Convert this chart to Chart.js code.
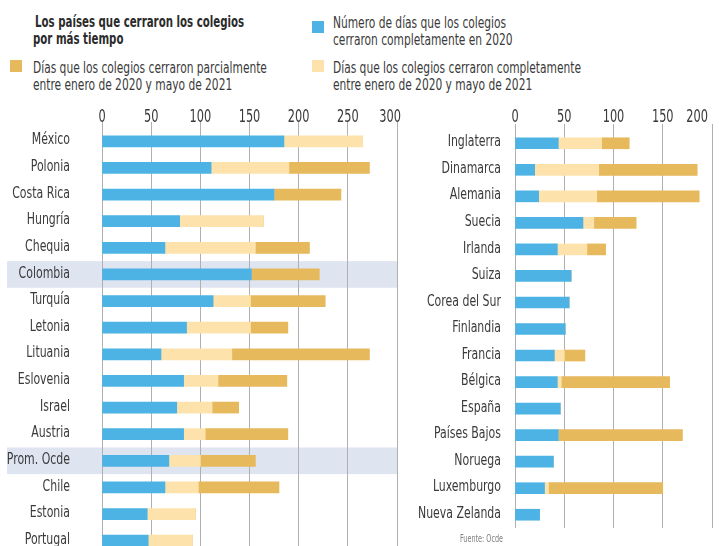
<!DOCTYPE html>
<html lang="es">
<head>
<meta charset="utf-8">
<script src="https://cdn.jsdelivr.net/npm/chart.js@4"></script>
<style>
  html, body { margin: 0; padding: 0; background: #fff; }
  body { width: 719px; height: 546px; overflow: hidden; position: relative;
         font-family: "DejaVu Sans Condensed", "DejaVu Sans", sans-serif; color: #3a3a3a; }
  .txt { position: absolute; font-size: 16px; line-height: 17px; white-space: nowrap;
         transform-origin: 0 0; transform: scaleX(0.74); }
  .titulo { font-weight: bold; color: #2b2b2b; transform: scaleX(0.71); }
  .cuadro { position: absolute; width: 12px; height: 12px; }
  canvas { position: absolute; top: 0; }
  #fuente { position: absolute; left: 460px; top: 533px; font-size: 10px; color: #808080;
            transform-origin: 0 0; transform: scaleX(0.72); white-space: nowrap; }
</style>
</head>
<body>

<div class="txt titulo" style="left:35px; top:13px;">Los países que cerraron los colegios</div>
<div class="txt titulo" style="left:33px; top:30px;">por más tiempo</div>

<div class="cuadro" style="left:10px; top:60px; background:#e6b95c;"></div>
<div class="txt" style="left:33px; top:59px;">Días que los colegios cerraron parcialmente<br>entre enero de 2020 y mayo de 2021</div>

<div class="cuadro" style="left:312px; top:21px; background:#4db3e5;"></div>
<div class="txt" style="left:333px; top:14px;">Número de días que los colegios<br>cerraron completamente en 2020</div>

<div class="cuadro" style="left:312px; top:60px; background:#fde3ab;"></div>
<div class="txt" style="left:333px; top:59px;">Días que los colegios cerraron completamente<br>entre enero de 2020 y mayo de 2021</div>

<canvas id="izq" width="412" height="560" style="left:0px;"></canvas>
<canvas id="der" width="319" height="560" style="left:400px;"></canvas>

<div id="fuente">Fuente: Ocde</div>

<script>
// DATOS - lado izquierdo
const paisesIzq = ["México", "Polonia", "Costa Rica", "Hungría", "Chequia", "Colombia", "Turquía", "Letonia",
  "Lituania", "Eslovenia", "Israel", "Austria", "Prom. Ocde", "Chile", "Estonia", "Portugal"];
const dias2020Izq = [185, 111, 175, 79, 64, 152, 113, 86, 60, 83, 76, 83, 68, 64, 46, 47];
const completosIzq = [265, 190, 175, 164, 156, 152, 151, 151, 132, 118, 112, 105, 100, 98, 95, 92];
const parcialesIzq = [0, 82, 68, 0, 55, 69, 76, 38, 140, 70, 27, 84, 56, 82, 0, 0];
const ticksIzq = [0, 50, 100, 150, 200, 250, 300];
const resaltados = ["Colombia", "Prom. Ocde"];

// DATOS - lado derecho
const paisesDer = ["Inglaterra", "Dinamarca", "Alemania", "Suecia", "Irlanda", "Suiza", "Corea del Sur", "Finlandia",
  "Francia", "Bélgica", "España", "Países Bajos", "Noruega", "Luxemburgo", "Nueva Zelanda"];
const dias2020Der = [44, 20, 24, 69, 43, 57, 55, 51, 40, 43, 46, 44, 39, 30, 25];
const completosDer = [88, 85, 83, 80, 73, 57, 55, 51, 50, 47, 46, 44, 39, 34, 25];
const parcialesDer = [28, 100, 104, 43, 19, 0, 0, 0, 21, 110, 0, 126, 0, 116, 0];
const ticksDer = [0, 50, 100, 150, 200];

const AZUL = "#4db3e5";
const CLARO = "#fde3ab";
const ORO = "#e6b95c";
const BANDA = "#dfe4f1";
const FAMILIA = "'DejaVu Sans Condensed', 'DejaVu Sans', sans-serif";

// franjas de fondo para Colombia y el promedio
const bandas = {
  id: "bandas",
  beforeDraw(chart, args, opts) {
    if (!opts.filas || !opts.filas.length) return;
    const y = chart.scales.y;
    const ctx = chart.ctx;
    const medio = (y.getPixelForValue(1) - y.getPixelForValue(0)) / 2;
    ctx.save();
    ctx.fillStyle = BANDA;
    opts.filas.forEach(nombre => {
      const i = chart.data.labels.indexOf(nombre);
      if (i < 0) return;
      const c = y.getPixelForValue(i);
      ctx.fillRect(opts.desde, c - medio, chart.chartArea.right + 1 - opts.desde, medio * 2);
    });
    ctx.restore();
  }
};

// rótulos angostos (la fuente original es condensada)
const rotulos = {
  id: "rotulos",
  afterDraw(chart, args, opts) {
    const ctx = chart.ctx;
    const x = chart.scales.x, y = chart.scales.y;
    ctx.save();
    ctx.fillStyle = "#3a3a3a";
    ctx.textBaseline = "middle";

    // países
    ctx.font = "16px " + FAMILIA;
    ctx.textAlign = "right";
    chart.data.labels.forEach((nombre, i) => {
      const py = y.getPixelForValue(i) - 1;
      ctx.save();
      ctx.translate(chart.chartArea.left - opts.sep, py);
      ctx.scale(0.76, 1);
      ctx.fillText(nombre, 0, 0);
      ctx.restore();
    });

    // valores del eje
    ctx.font = "18px " + FAMILIA;
    ctx.textAlign = "center";
    const sx = 0.7;
    x.ticks.forEach(t => {
      const txt = String(t.value);
      const w = ctx.measureText(txt).width * sx;
      let px = x.getPixelForValue(t.value);
      const limite = chart.width - 11;
      if (px + w / 2 > limite) px = limite - w / 2;
      ctx.save();
      ctx.translate(px, opts.yEje);
      ctx.scale(sx, 1);
      ctx.fillText(txt, 0, 0);
      ctx.restore();
    });
    ctx.restore();
  }
};

function crearGrafico(id, paises, d2020, completos, parciales, marcas, cfg) {
  const claro = completos.map((v, i) => v - d2020[i]);
  return new Chart(document.getElementById(id), {
    type: "bar",
    data: {
      labels: paises,
      datasets: [
        { label: "Completo 2020", data: d2020, backgroundColor: AZUL },
        { label: "Completo 2020-2021", data: claro, backgroundColor: CLARO },
        { label: "Parcial", data: parciales, backgroundColor: ORO }
      ]
    },
    options: {
      indexAxis: "y",
      responsive: false,
      animation: false,
      layout: { padding: cfg.padding },
      datasets: { bar: { barThickness: 11, borderWidth: 0 } },
      plugins: {
        legend: { display: false },
        tooltip: { enabled: false },
        bandas: { filas: cfg.filas, desde: 7 },
        rotulos: { sep: cfg.sep, yEje: 117 }
      },
      scales: {
        x: {
          position: "top",
          stacked: true,
          min: 0,
          max: marcas[marcas.length - 1],
          afterBuildTicks: s => { s.ticks = marcas.map(v => ({ value: v })); },
          afterFit: s => { s.height = 6; },
          ticks: { display: false },
          grid: { color: "#b0b0b0", lineWidth: 1, tickLength: 6 },
          border: { display: false }
        },
        y: {
          stacked: true,
          afterFit: s => { s.width = cfg.anchoEtiquetas; },
          ticks: { display: false },
          grid: { display: false, drawTicks: false },
          border: { display: false }
        }
      }
    },
    plugins: [bandas, rotulos]
  });
}

crearGrafico("izq", paisesIzq, dias2020Izq, completosIzq, parcialesIzq, ticksIzq, {
  padding: { top: 122, bottom: 6, left: 0, right: 15 },
  anchoEtiquetas: 102, sep: 32, filas: resaltados
});

crearGrafico("der", paisesDer, dias2020Der, completosDer, parcialesDer, ticksDer, {
  padding: { top: 124, bottom: 32, left: 0, right: 7 },
  anchoEtiquetas: 115, sep: 14, filas: []
});
</script>
</body>
</html>
